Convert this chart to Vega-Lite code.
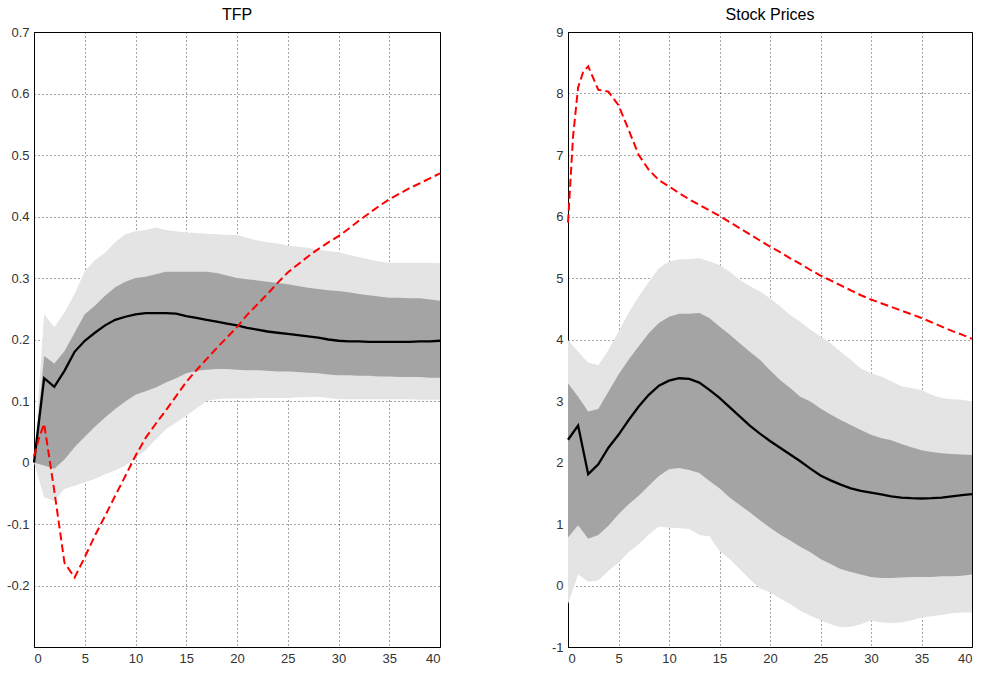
{
  "$schema": "https://vega.github.io/schema/vega-lite/v6.json",
  "padding": {"left": 6, "top": 6, "right": 5, "bottom": 5},
  "spacing": 104,
  "background": "white",
  "datasets": {
    "tfp": [
      {"t":0,"m":0,"a":0,"b":0,"c":0,"d":0},
      {"t":1,"m":0.137,"a":-0.057,"b":-0.005,"c":0.173,"d":0.241},
      {"t":2,"m":0.123,"a":-0.062,"b":-0.01,"c":0.161,"d":0.22},
      {"t":3,"m":0.149,"a":-0.043,"b":0.005,"c":0.181,"d":0.244},
      {"t":4,"m":0.18,"a":-0.038,"b":0.025,"c":0.211,"d":0.274},
      {"t":5,"m":0.198,"a":-0.032,"b":0.042,"c":0.241,"d":0.311},
      {"t":6,"m":0.211,"a":-0.027,"b":0.058,"c":0.255,"d":0.329},
      {"t":7,"m":0.223,"a":-0.019,"b":0.073,"c":0.271,"d":0.341},
      {"t":8,"m":0.232,"a":-0.013,"b":0.087,"c":0.285,"d":0.358},
      {"t":9,"m":0.237,"a":-0.005,"b":0.099,"c":0.294,"d":0.371},
      {"t":10,"m":0.241,"a":0.008,"b":0.11,"c":0.3,"d":0.376},
      {"t":11,"m":0.243,"a":0.02,"b":0.116,"c":0.302,"d":0.378},
      {"t":12,"m":0.243,"a":0.038,"b":0.122,"c":0.306,"d":0.382},
      {"t":13,"m":0.243,"a":0.054,"b":0.13,"c":0.31,"d":0.378},
      {"t":14,"m":0.242,"a":0.065,"b":0.137,"c":0.31,"d":0.376},
      {"t":15,"m":0.238,"a":0.076,"b":0.145,"c":0.31,"d":0.374},
      {"t":16,"m":0.235,"a":0.088,"b":0.149,"c":0.31,"d":0.373},
      {"t":17,"m":0.232,"a":0.1,"b":0.151,"c":0.31,"d":0.372},
      {"t":18,"m":0.229,"a":0.103,"b":0.152,"c":0.308,"d":0.371},
      {"t":19,"m":0.226,"a":0.104,"b":0.152,"c":0.304,"d":0.37},
      {"t":20,"m":0.223,"a":0.104,"b":0.151,"c":0.3,"d":0.37},
      {"t":21,"m":0.219,"a":0.104,"b":0.15,"c":0.298,"d":0.365},
      {"t":22,"m":0.216,"a":0.105,"b":0.15,"c":0.296,"d":0.361},
      {"t":23,"m":0.213,"a":0.105,"b":0.149,"c":0.294,"d":0.358},
      {"t":24,"m":0.211,"a":0.105,"b":0.148,"c":0.292,"d":0.356},
      {"t":25,"m":0.209,"a":0.105,"b":0.148,"c":0.29,"d":0.353},
      {"t":26,"m":0.207,"a":0.106,"b":0.147,"c":0.287,"d":0.351},
      {"t":27,"m":0.205,"a":0.106,"b":0.146,"c":0.284,"d":0.349},
      {"t":28,"m":0.203,"a":0.107,"b":0.145,"c":0.282,"d":0.346},
      {"t":29,"m":0.2,"a":0.105,"b":0.143,"c":0.28,"d":0.344},
      {"t":30,"m":0.198,"a":0.103,"b":0.142,"c":0.279,"d":0.342},
      {"t":31,"m":0.197,"a":0.103,"b":0.142,"c":0.277,"d":0.338},
      {"t":32,"m":0.197,"a":0.103,"b":0.141,"c":0.274,"d":0.334},
      {"t":33,"m":0.196,"a":0.103,"b":0.141,"c":0.272,"d":0.33},
      {"t":34,"m":0.196,"a":0.103,"b":0.14,"c":0.27,"d":0.327},
      {"t":35,"m":0.196,"a":0.103,"b":0.14,"c":0.268,"d":0.325},
      {"t":36,"m":0.196,"a":0.103,"b":0.139,"c":0.268,"d":0.325},
      {"t":37,"m":0.196,"a":0.103,"b":0.139,"c":0.267,"d":0.325},
      {"t":38,"m":0.197,"a":0.102,"b":0.139,"c":0.267,"d":0.325},
      {"t":39,"m":0.197,"a":0.102,"b":0.138,"c":0.265,"d":0.325},
      {"t":40,"m":0.198,"a":0.102,"b":0.138,"c":0.263,"d":0.324}
    ],
    "tfp_red": [
      {"t":0,"v":0.01},{"t":0.5,"v":0.04},{"t":1,"v":0.063},{"t":2,"v":-0.046},{"t":3,"v":-0.163},
      {"t":4,"v":-0.187},{"t":5,"v":-0.154},{"t":6,"v":-0.119},{"t":7,"v":-0.087},{"t":8,"v":-0.054},
      {"t":9,"v":-0.022},{"t":10,"v":0.011},{"t":11,"v":0.04},{"t":12,"v":0.063},{"t":13,"v":0.085},
      {"t":14,"v":0.108},{"t":15,"v":0.131},{"t":16,"v":0.15},{"t":17,"v":0.168},{"t":18,"v":0.186},
      {"t":19,"v":0.203},{"t":20,"v":0.22},{"t":21,"v":0.24},{"t":22,"v":0.257},{"t":23,"v":0.274},
      {"t":24,"v":0.292},{"t":25,"v":0.309},{"t":26,"v":0.322},{"t":27,"v":0.335},{"t":28,"v":0.347},
      {"t":29,"v":0.358},{"t":30,"v":0.368},{"t":31,"v":0.38},{"t":32,"v":0.393},{"t":33,"v":0.405},
      {"t":34,"v":0.417},{"t":35,"v":0.428},{"t":36,"v":0.437},{"t":37,"v":0.446},{"t":38,"v":0.454},
      {"t":39,"v":0.462},{"t":40,"v":0.47}
    ],
    "sp": [
      {"t":0,"m":2.37,"a":-0.3,"b":0.78,"c":3.29,"d":3.99},
      {"t":1,"m":2.6,"a":0.18,"b":0.98,"c":3.07,"d":3.8},
      {"t":2,"m":1.81,"a":0.06,"b":0.76,"c":2.83,"d":3.62},
      {"t":3,"m":1.97,"a":0.08,"b":0.82,"c":2.87,"d":3.58},
      {"t":4,"m":2.24,"a":0.24,"b":0.97,"c":3.15,"d":3.83},
      {"t":5,"m":2.45,"a":0.37,"b":1.16,"c":3.43,"d":4.13},
      {"t":6,"m":2.69,"a":0.54,"b":1.32,"c":3.67,"d":4.43},
      {"t":7,"m":2.91,"a":0.67,"b":1.46,"c":3.89,"d":4.7},
      {"t":8,"m":3.1,"a":0.83,"b":1.62,"c":4.1,"d":4.94},
      {"t":9,"m":3.25,"a":0.96,"b":1.78,"c":4.27,"d":5.16},
      {"t":10,"m":3.33,"a":0.94,"b":1.89,"c":4.37,"d":5.27},
      {"t":11,"m":3.37,"a":0.93,"b":1.91,"c":4.42,"d":5.3},
      {"t":12,"m":3.36,"a":0.92,"b":1.88,"c":4.42,"d":5.31},
      {"t":13,"m":3.3,"a":0.82,"b":1.83,"c":4.43,"d":5.32},
      {"t":14,"m":3.18,"a":0.8,"b":1.7,"c":4.35,"d":5.27},
      {"t":15,"m":3.05,"a":0.56,"b":1.58,"c":4.21,"d":5.21},
      {"t":16,"m":2.9,"a":0.43,"b":1.43,"c":4.08,"d":5.1},
      {"t":17,"m":2.75,"a":0.27,"b":1.31,"c":3.94,"d":4.97},
      {"t":18,"m":2.6,"a":0.1,"b":1.19,"c":3.8,"d":4.87},
      {"t":19,"m":2.47,"a":-0.05,"b":1.06,"c":3.67,"d":4.78},
      {"t":20,"m":2.35,"a":-0.11,"b":0.94,"c":3.5,"d":4.67},
      {"t":21,"m":2.24,"a":-0.21,"b":0.83,"c":3.34,"d":4.54},
      {"t":22,"m":2.13,"a":-0.3,"b":0.73,"c":3.21,"d":4.4},
      {"t":23,"m":2.02,"a":-0.41,"b":0.63,"c":3.07,"d":4.29},
      {"t":24,"m":1.9,"a":-0.49,"b":0.54,"c":2.99,"d":4.16},
      {"t":25,"m":1.79,"a":-0.56,"b":0.43,"c":2.88,"d":4.05},
      {"t":26,"m":1.71,"a":-0.63,"b":0.35,"c":2.78,"d":3.94},
      {"t":27,"m":1.64,"a":-0.68,"b":0.27,"c":2.69,"d":3.8},
      {"t":28,"m":1.58,"a":-0.67,"b":0.22,"c":2.61,"d":3.67},
      {"t":29,"m":1.54,"a":-0.63,"b":0.18,"c":2.53,"d":3.53},
      {"t":30,"m":1.51,"a":-0.57,"b":0.14,"c":2.45,"d":3.45},
      {"t":31,"m":1.48,"a":-0.6,"b":0.12,"c":2.4,"d":3.4},
      {"t":32,"m":1.45,"a":-0.61,"b":0.12,"c":2.36,"d":3.32},
      {"t":33,"m":1.43,"a":-0.6,"b":0.13,"c":2.3,"d":3.24},
      {"t":34,"m":1.42,"a":-0.57,"b":0.14,"c":2.25,"d":3.21},
      {"t":35,"m":1.415,"a":-0.52,"b":0.14,"c":2.2,"d":3.18},
      {"t":36,"m":1.42,"a":-0.5,"b":0.14,"c":2.17,"d":3.1},
      {"t":37,"m":1.43,"a":-0.48,"b":0.15,"c":2.15,"d":3.05},
      {"t":38,"m":1.45,"a":-0.45,"b":0.15,"c":2.14,"d":3.03},
      {"t":39,"m":1.47,"a":-0.44,"b":0.16,"c":2.13,"d":3.02},
      {"t":40,"m":1.485,"a":-0.44,"b":0.18,"c":2.12,"d":2.99}
    ],
    "sp_red": [
      {"t":0,"v":5.9},{"t":0.5,"v":7.3},{"t":1,"v":8.1},{"t":1.5,"v":8.35},{"t":2,"v":8.44},
      {"t":3,"v":8.06},{"t":4,"v":8.03},{"t":5,"v":7.81},{"t":6,"v":7.41},{"t":7,"v":7.0},
      {"t":8,"v":6.76},{"t":9,"v":6.59},{"t":10,"v":6.49},{"t":11,"v":6.38},{"t":12,"v":6.28},
      {"t":13,"v":6.19},{"t":14,"v":6.1},{"t":15,"v":6.01},{"t":16,"v":5.91},{"t":17,"v":5.81},
      {"t":18,"v":5.71},{"t":19,"v":5.61},{"t":20,"v":5.51},{"t":21,"v":5.42},{"t":22,"v":5.32},
      {"t":23,"v":5.23},{"t":24,"v":5.13},{"t":25,"v":5.04},{"t":26,"v":4.96},{"t":27,"v":4.88},
      {"t":28,"v":4.8},{"t":29,"v":4.72},{"t":30,"v":4.65},{"t":31,"v":4.59},{"t":32,"v":4.53},
      {"t":33,"v":4.47},{"t":34,"v":4.41},{"t":35,"v":4.35},{"t":36,"v":4.28},{"t":37,"v":4.21},
      {"t":38,"v":4.14},{"t":39,"v":4.08},{"t":40,"v":4.01}
    ]
  },
  "hconcat": [
    {
      "title": {"text": "TFP"},
      "width": 406,
      "height": 615,
      "layer": [
        {
          "data": {"name": "tfp"},
          "mark": {"type": "area", "color": "#e4e4e4", "opacity": 1},
          "encoding": {
            "x": {"field": "t", "type": "quantitative", "scale": {"domain": [0, 40], "nice": false}, "axis": {"values": [0,5,10,15,20,25,30,35,40], "title": null}},
            "y": {"field": "a", "type": "quantitative", "scale": {"domain": [-0.3, 0.7], "nice": false, "zero": false}, "axis": {"values": [-0.2,-0.1,0,0.1,0.2,0.3,0.4,0.5,0.6,0.7], "title": null, "labelExpr": "datum.value < 0 ? '-' + format(-datum.value, '~g') : format(datum.value, '~g')"}},
            "y2": {"field": "d"}
          }
        },
        {
          "data": {"name": "tfp"},
          "mark": {"type": "area", "color": "#a4a4a4", "opacity": 1},
          "encoding": {
            "x": {"field": "t", "type": "quantitative"},
            "y": {"field": "b", "type": "quantitative"},
            "y2": {"field": "c"}
          }
        },
        {
          "data": {"name": "tfp"},
          "mark": {"type": "line", "color": "black", "strokeWidth": 2.3},
          "encoding": {
            "x": {"field": "t", "type": "quantitative"},
            "y": {"field": "m", "type": "quantitative"}
          }
        },
        {
          "data": {"name": "tfp_red"},
          "mark": {"type": "line", "color": "#ff0000", "strokeWidth": 2, "strokeDash": [8, 4]},
          "encoding": {
            "x": {"field": "t", "type": "quantitative"},
            "y": {"field": "v", "type": "quantitative"}
          }
        }
      ]
    },
    {
      "title": {"text": "Stock Prices"},
      "width": 404,
      "height": 615,
      "layer": [
        {
          "data": {"name": "sp"},
          "mark": {"type": "area", "color": "#e4e4e4", "opacity": 1},
          "encoding": {
            "x": {"field": "t", "type": "quantitative", "scale": {"domain": [0, 40], "nice": false}, "axis": {"values": [0,5,10,15,20,25,30,35,40], "title": null}},
            "y": {"field": "a", "type": "quantitative", "scale": {"domain": [-1, 9], "nice": false, "zero": false}, "axis": {"values": [-1,0,1,2,3,4,5,6,7,8,9], "title": null, "labelExpr": "datum.value < 0 ? '-' + format(-datum.value, '~g') : format(datum.value, '~g')"}},
            "y2": {"field": "d"}
          }
        },
        {
          "data": {"name": "sp"},
          "mark": {"type": "area", "color": "#a4a4a4", "opacity": 1},
          "encoding": {
            "x": {"field": "t", "type": "quantitative"},
            "y": {"field": "b", "type": "quantitative"},
            "y2": {"field": "c"}
          }
        },
        {
          "data": {"name": "sp"},
          "mark": {"type": "line", "color": "black", "strokeWidth": 2.3},
          "encoding": {
            "x": {"field": "t", "type": "quantitative"},
            "y": {"field": "m", "type": "quantitative"}
          }
        },
        {
          "data": {"name": "sp_red"},
          "mark": {"type": "line", "color": "#ff0000", "strokeWidth": 2, "strokeDash": [8, 4]},
          "encoding": {
            "x": {"field": "t", "type": "quantitative"},
            "y": {"field": "v", "type": "quantitative"}
          }
        }
      ]
    }
  ],
  "config": {
    "font": "Liberation Sans",
    "view": {"stroke": "#000000", "strokeWidth": 1},
    "title": {"fontSize": 16, "fontWeight": "normal", "font": "Liberation Sans", "color": "#000000", "offset": 3},
    "axis": {
      "zindex": 1,
      "domainColor": "#000000",
      "ticks": false,
      "labelPadding": 5,
      "labelFontSize": 13,
      "labelColor": "#333333",
      "labelFont": "Liberation Sans",
      "grid": true,
      "gridColor": "#000000",
      "gridDash": [1, 3],
      "gridOpacity": 0.7,
      "gridWidth": 1
    }
  }
}
